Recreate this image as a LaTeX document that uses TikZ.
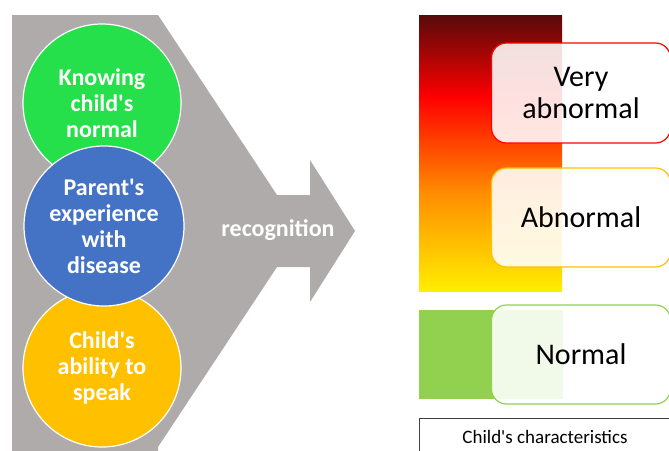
\documentclass[tikz,border=0pt]{standalone}
\usepackage{fontspec}
\setmainfont{Carlito}[Ligatures=TeXOff]
\begin{document}
\begin{tikzpicture}[x=1pt,y=-1pt,
  circ/.style={circle,minimum size=158pt,inner sep=0pt,draw=white,line width=1.2pt,text=white,
    align=center,font=\fontsize{24}{26}\selectfont\bfseries},
  lvl/.style={rounded corners=15pt,line width=1.2pt,fill=white,fill opacity=0.88,text opacity=1,
    minimum width=179pt,align=center,font=\fontsize{30}{32}\selectfont},
]
\useasboundingbox (0,0) rectangle (669,450);
\clip (0,0) rectangle (669,450);
\definecolor{shapegray}{HTML}{AFABAB}
\definecolor{cgreen}{HTML}{25E04A}
\definecolor{cblue}{HTML}{4472C4}
\definecolor{cyellow}{HTML}{FFC000}
\definecolor{lgreen}{HTML}{92D050}
\definecolor{dred}{HTML}{580A0A}
\definecolor{orng}{HTML}{FF8A00}
\definecolor{yel}{HTML}{FFEE00}
% gray chevron arrow
\fill[shapegray] (12,15) -- (158,15) -- (277,195) -- (310,195) -- (310,160) -- (355,231)
  -- (310,302) -- (310,267) -- (277,267) -- (158,447) -- (158,452) -- (12,452) -- cycle;
\node[text=white,font=\fontsize{24}{26}\selectfont\bfseries] (rec) at (278,230) {recognition};
% circles
\node[circ,fill=cgreen] (know) at (102,103) {Knowing\\child's\\normal};
\node[circ,fill=cyellow] (speak) at (102,368) {Child's\\ability to\\speak};
\node[circ,fill=cblue,minimum size=160pt] (exp) at (104,226) {Parent's\\experience\\with\\disease};
% gradient bar
\shade[top color=dred,bottom color=red] (419,15) rectangle (562,98);
\shade[top color=red,bottom color=orng] (419,97) rectangle (562,191);
\shade[top color=orng,bottom color=yel] (419,190) rectangle (562,291);
\fill[lgreen] (419,310) rectangle (563,399);
% level boxes
\node[lvl,draw=red,minimum height=100pt] (vab) at (581,93) {Very\\abnormal};
\node[lvl,draw=cyellow,minimum height=99pt] (ab) at (581,217.5) {Abnormal};
\node[lvl,draw=lgreen,minimum height=99pt] (norm) at (581,354.5) {Normal};
% bottom label
\node[draw=black!75,line width=0.8pt,minimum width=252pt,minimum height=40pt,anchor=north west,
  inner sep=0pt] (chr) at (419,418) {};
\node[font=\fontsize{19}{21}\selectfont] (chrt) at (545,437) {Child's characteristics};
\end{tikzpicture}
\end{document}
